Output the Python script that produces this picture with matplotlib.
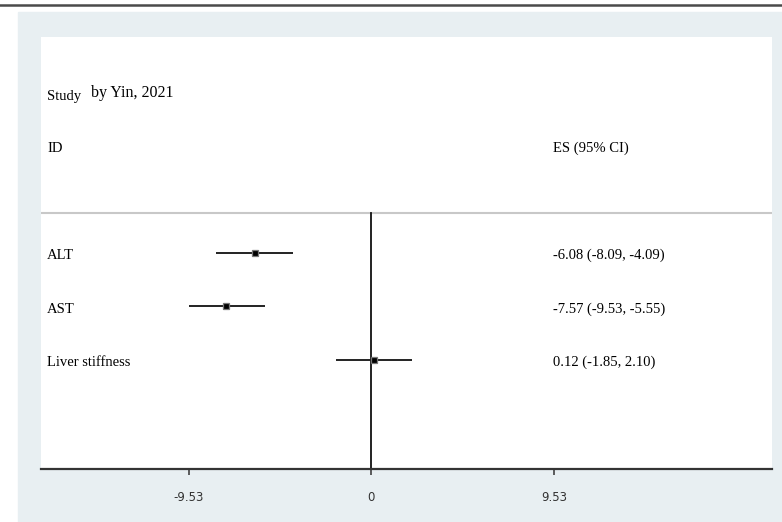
import matplotlib
matplotlib.use("Agg")
import matplotlib.pyplot as plt
from matplotlib.patches import Rectangle
from matplotlib.lines import Line2D

# data
labels = ["ALT", "AST", "Liver stiffness"]
es = [-6.08, -7.57, 0.12]
lo = [-8.09, -9.53, -1.85]
hi = [-4.09, -5.55, 2.10]
tick_vals = [-9.53, 0, 9.53]
tick_labels = ["-9.53", "0", "9.53"]

W, H = 782, 522
fig = plt.figure(figsize=(W / 100, H / 100), dpi=100, facecolor="white")

# outer light panel + thin rule on top
fig.add_artist(Rectangle((18 / W, 0), (W - 18) / W, (H - 12) / H,
                         transform=fig.transFigure, color="#e8eff2", zorder=0))
fig.add_artist(Line2D([0, 1], [1 - 5 / H, 1 - 5 / H], transform=fig.transFigure,
                      color="#4a4a4a", lw=1.8))

ax = fig.add_axes([41 / W, 1 - 469 / H, (772 - 41) / W, (469 - 37) / H])
ax.set_facecolor("white")
ax.set_xlim(-17.23, 20.89)
ax.set_ylim(4.04, -4.04)

serif = "Liberation Serif"
rows = list(range(len(labels)))
sep_y = -0.75

# header
ax.text(-16.91, -2.92, "Study", family=serif, fontsize=10.5, va="center", ha="left")
ax.text(-14.62, -2.99, "by Yin, 2021", family=serif, fontsize=11.5, va="center", ha="left")
ax.text(-16.91, -1.96, "ID", family=serif, fontsize=10.5, va="center", ha="left")
ax.text(9.47, -1.96, "ES (95% CI)", family=serif, fontsize=10.5, va="center", ha="left")

# separator and null line
ax.axhline(sep_y, color="#c8c8c8", lw=1.5)
ax.plot([0, 0], [sep_y, 4.04], color="#111111", lw=1.3)

for r, lab, e, l, h in zip(rows, labels, es, lo, hi):
    ax.plot([l, h], [r, r], color="#1a1a1a", lw=1.35, solid_capstyle="butt")
    ax.plot(e, r, marker="s", ms=4, mfc="black", mec="#777777", mew=0.9)
    ax.text(-16.91, r + 0.05, lab, family=serif, fontsize=10.5, va="center", ha="left")
    ax.text(9.47, r + 0.05, f"{e:.2f} ({l:.2f}, {h:.2f})", family=serif,
            fontsize=10.5, va="center", ha="left")

for s in ["left", "right", "top"]:
    ax.spines[s].set_visible(False)
ax.spines["bottom"].set_color("#333333")
ax.spines["bottom"].set_linewidth(1.6)
ax.set_yticks([])
ax.set_xticks(tick_vals)
ax.set_xticklabels(tick_labels, family="DejaVu Sans", fontsize=8.5, color="#333333")
ax.tick_params(axis="x", length=4, width=1.1, color="#333333", pad=12)

fig.savefig("out.png", dpi=100, facecolor="white")
